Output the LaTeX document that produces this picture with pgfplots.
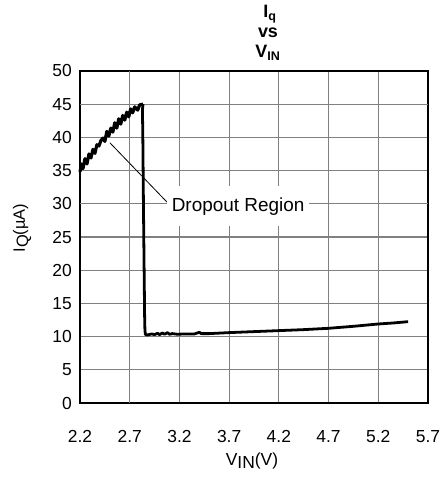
\documentclass[border=0pt]{standalone}
\usepackage{pgfplots}
\pgfplotsset{compat=1.18}
\usepackage{fontspec}
\setmainfont{Liberation Sans}
\begin{document}
\begin{tikzpicture}
\begin{axis}[
  scale only axis,
  width=348bp, height=332bp,
  xmin=2.2, xmax=5.7, ymin=0, ymax=50,
  xtick={2.2,2.7,3.2,3.7,4.2,4.7,5.2,5.7},
  xticklabels={2.2,2.7,3.2,3.7,4.2,4.7,5.2,5.7},
  ytick={0,5,...,50},
  extra x ticks={2.7}, extra x tick labels={},
  extra y ticks={30,45}, extra y tick labels={},
  extra tick style={grid style={black, line width=1.2bp}},
  major tick length=0pt,
  grid=major,
  major grid style={black!50, line width=1.2bp},
  axis line style={black, line width=2.2bp},
  /pgf/number format/assume math mode=true,
  tick label style={font=\fontsize{17.5}{20}\selectfont, inner sep=0pt},
  xticklabel style={anchor=base, yshift=-39bp},
  yticklabel style={anchor=east, xshift=-8bp},
  clip=false,
]
\addplot[black, line width=3.2pt, line join=round] coordinates {
(2.20,34.8) (2.215,36.0) (2.23,35.3) (2.25,36.8) (2.27,36.0) (2.29,37.5)
(2.31,36.9) (2.33,38.2) (2.35,37.6) (2.37,38.9) (2.39,38.7) (2.41,39.5)
(2.43,39.9) (2.45,39.4) (2.47,40.9) (2.49,40.2) (2.51,41.4) (2.53,40.8)
(2.55,42.2) (2.57,41.4) (2.59,42.8) (2.61,42.0) (2.63,43.3) (2.65,42.6)
(2.67,43.8) (2.69,43.1) (2.71,44.3) (2.73,43.7) (2.75,44.6) (2.78,44.1)
(2.80,44.9) (2.834,45.0)
};
\addplot[black, line width=2.8pt, line join=round] coordinates {
(2.834,45.0) (2.828,44.2) (2.832,40) (2.838,30) (2.845,20) (2.850,13)
(2.853,11.0) (2.858,10.3) (2.88,10.25) (2.92,10.4) (2.95,10.3)
(2.98,10.5) (3.00,10.3) (3.03,10.55) (3.05,10.35) (3.08,10.6) (3.10,10.35)
(3.13,10.45) (3.18,10.35) (3.25,10.4) (3.35,10.4) (3.40,10.65) (3.42,10.45)
(3.50,10.45) (3.70,10.6) (3.95,10.75) (4.20,10.9) (4.45,11.05)
(4.70,11.25) (4.95,11.55) (5.20,11.9) (5.35,12.05) (5.50,12.25)
};
\draw[black, line width=0.8bp] (axis cs:2.50,39.2) -- (axis cs:3.085,30.1);
\node[fill=white, inner xsep=5bp, inner ysep=0pt, minimum height=40bp, anchor=base,
  font=\fontsize{19}{22}\selectfont] at (axis cs:3.79,28.9) {Dropout Region};
% title
\node[anchor=base, font=\fontsize{18}{20}\selectfont\bfseries]
  at ([xshift=16bp,yshift=53bp]rel axis cs:0.5,1) {I\textsubscript{q}};
\node[anchor=base, font=\fontsize{18}{20}\selectfont\bfseries]
  at ([xshift=14bp,yshift=33bp]rel axis cs:0.5,1) {vs};
\node[anchor=base, font=\fontsize{18}{20}\selectfont\bfseries]
  at ([xshift=14bp,yshift=13bp]rel axis cs:0.5,1) {V\textsubscript{IN}};
% axis labels
\node[anchor=base, font=\fontsize{17.5}{20}\selectfont]
  at ([xshift=-2bp,yshift=-62bp]rel axis cs:0.5,0) {V\raisebox{-0.35ex}{IN}(V)};
\node[anchor=base, rotate=90, font=\fontsize{16.5}{20}\selectfont]
  at ([xshift=-55bp,yshift=9bp]rel axis cs:0,0.5) {I\raisebox{-0.35ex}{Q}(µA)};
% bounding box as in the reference
\path ([xshift=-80bp,yshift=-78bp]rel axis cs:0,0) rectangle ([xshift=15bp,yshift=71bp]rel axis cs:1,1);
\end{axis}
\end{tikzpicture}
\end{document}
